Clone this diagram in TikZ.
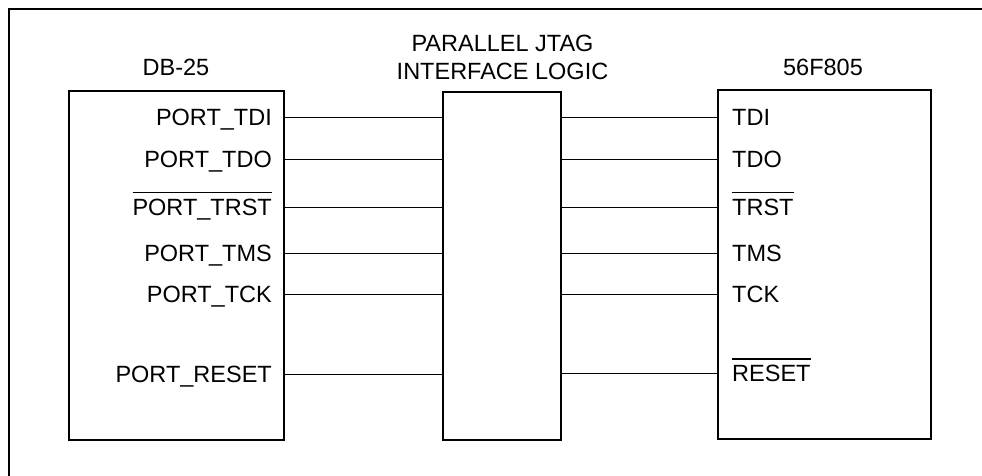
\documentclass[tikz,border=0pt]{standalone}
\usepackage{fontspec}
\setmainfont{Liberation Sans}
\newcommand\ovl[1]{\leavevmode\setbox0\hbox{#1}\rlap{\raisebox{\dimexpr\ht0+5.5pt\relax}{\rule{\wd0}{1.3pt}}}\box0}
\begin{document}
\begin{tikzpicture}[x=1pt,y=-1pt,
  lbl/.style={font=\fontsize{23.5}{28}\selectfont, inner sep=0pt},
  pinl/.style={lbl, anchor=base east},
  pinr/.style={lbl, anchor=base west},
  chip/.style={draw, line width=1.2pt, inner sep=0pt},
  wire/.style={line width=1pt},
  frame/.style={line width=2.6pt}]
\useasboundingbox (0,0) rectangle (982,475);
\draw[frame] (9,485) -- (9,9) -- (995,9);
% boxes
\node[chip, minimum width=215pt, minimum height=349pt] (db) at (176.5,265.5) {};
\node[chip, minimum width=118pt, minimum height=348pt] (mid) at (502,266) {};
\node[chip, minimum width=213pt, minimum height=349pt] (mcu) at (824.5,264.5) {};
% titles
\node[lbl] (tdb) at (176,67) {DB-25};
\node[lbl, align=center] (tmid) at (502.5,57) {PARALLEL JTAG\\INTERFACE LOGIC};
\node[lbl] (tmcu) at (823,67) {56F805};
% pin coordinates
\coordinate (L1) at (284,117);
\coordinate (L2) at (284,159);
\coordinate (L3) at (284,207);
\coordinate (L4) at (284,253);
\coordinate (L5) at (284,294);
\coordinate (L6) at (284,374);
\coordinate (R1) at (718,117);
\coordinate (R2) at (718,159);
\coordinate (R3) at (718,207);
\coordinate (R4) at (718,253);
\coordinate (R5) at (718,294);
\coordinate (R6) at (718,373);
% left labels
\node[pinl] (a1) at (272,125.4) {PORT\_TDI};
\node[pinl] (a2) at (272,167.4) {PORT\_TDO};
\node[pinl] (a3) at (272,215.4) {\ovl{PORT\_TRST}};
\node[pinl] (a4) at (272,261.4) {PORT\_TMS};
\node[pinl] (a5) at (272,302.4) {PORT\_TCK};
\node[pinl] (a6) at (272,382.4) {PORT\_RESET};
% right labels
\node[pinr] (b1) at (732,125.4) {TDI};
\node[pinr] (b2) at (732,167.4) {TDO};
\node[pinr] (b3) at (732,215.4) {\ovl{TRST}};
\node[pinr] (b4) at (732,261.4) {TMS};
\node[pinr] (b5) at (732,302.4) {TCK};
\node[pinr] (b6) at (732,381.4) {\ovl{RESET}};
% wires
\foreach \i in {1,...,6}{
  \draw[wire] (L\i) -- (L\i -| mid.west);
  \draw[wire] (mid.east |- R\i) -- (R\i);
}
\end{tikzpicture}
\end{document}
